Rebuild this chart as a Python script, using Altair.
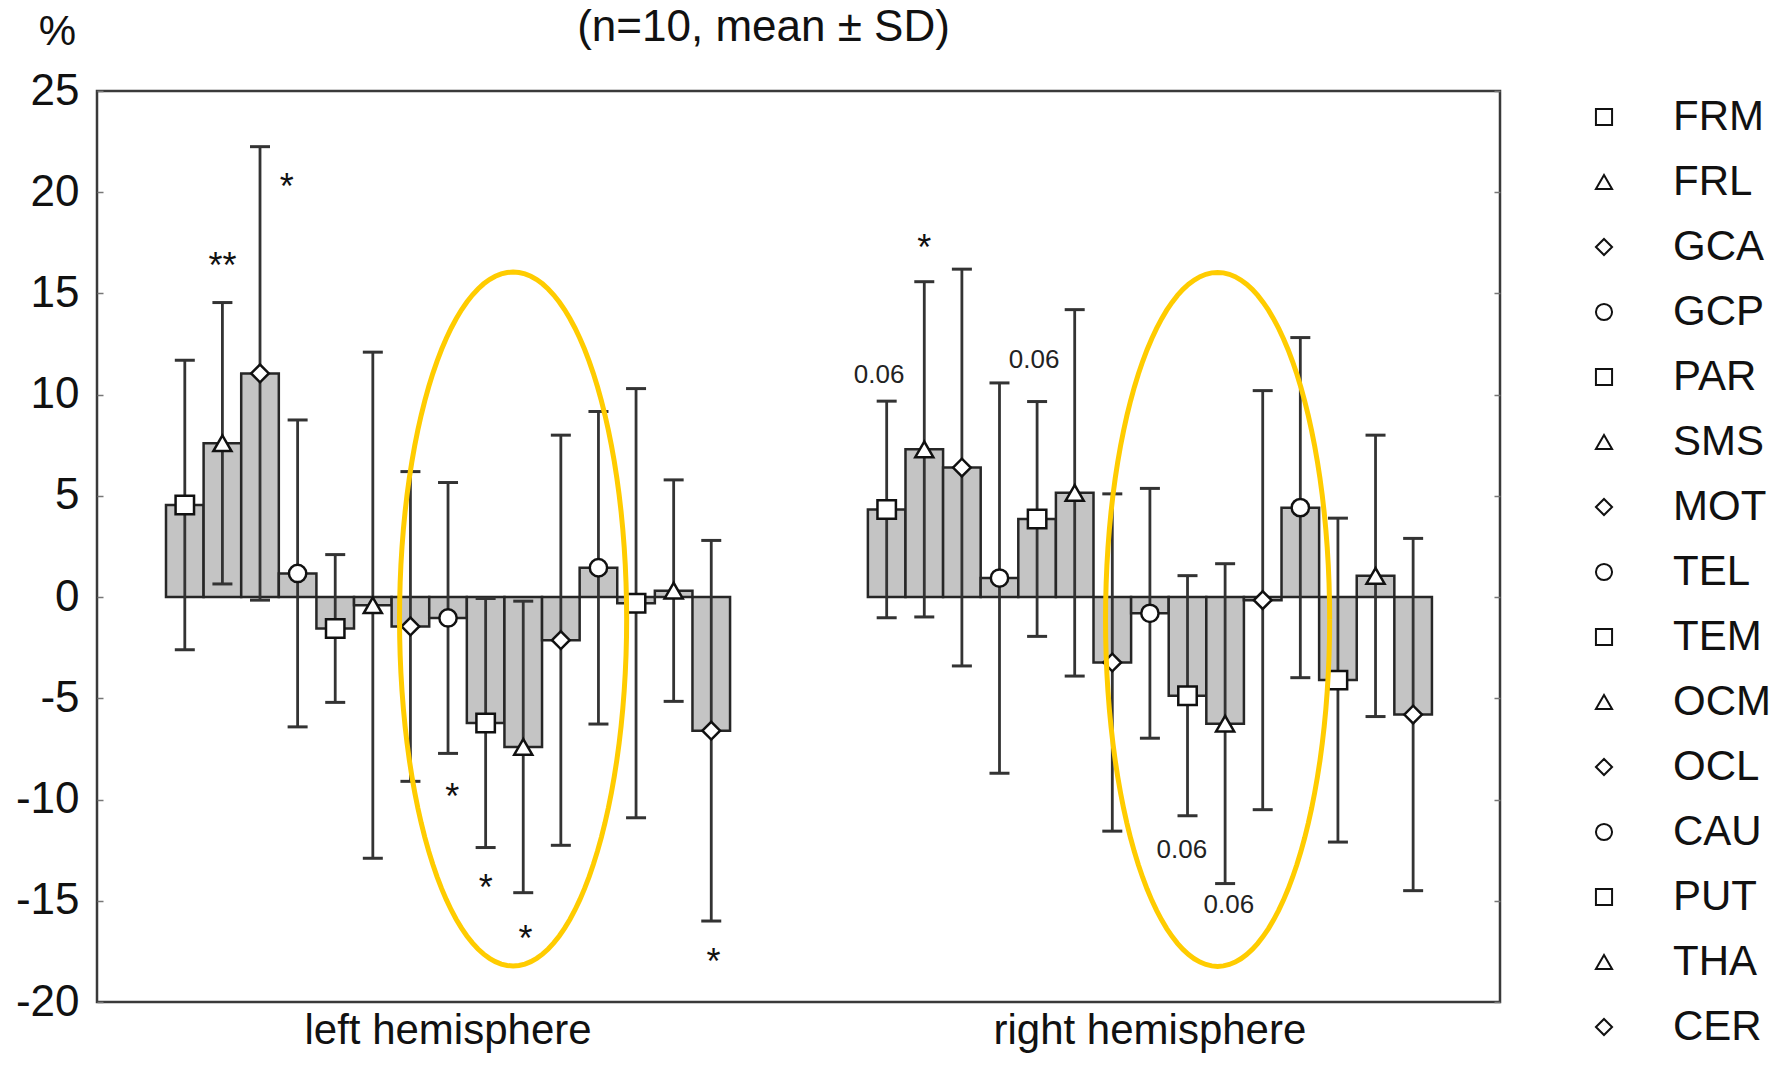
import altair as alt
import pandas as pd

# ---------------- data ----------------
regions = ["FRM", "FRL", "GCA", "GCP", "PAR", "SMS", "MOT", "TEL",
           "TEM", "OCM", "OCL", "CAU", "PUT", "THA", "CER"]
hemispheres = ["left hemisphere", "right hemisphere"]

left_mean = [4.55, 7.6, 11.05, 1.17, -1.55, -0.4, -1.45, -1.03,
             -6.22, -7.4, -2.13, 1.45, -0.3, 0.32, -6.6]
left_sd = [7.15, 6.95, 11.2, 7.58, 3.65, 12.5, 7.65, 6.69,
           6.15, 7.2, 10.13, 7.72, 10.6, 5.47, 9.4]
right_mean = [4.33, 7.3, 6.4, 0.94, 3.86, 5.15, -3.23, -0.8,
              -4.87, -6.25, -0.15, 4.42, -4.1, 1.05, -5.8]
right_sd = [5.35, 8.28, 9.8, 9.64, 5.8, 9.05, 8.33, 6.17,
            5.93, 7.9, 10.35, 8.4, 8.0, 6.95, 8.7]

y_ticks = [-20, -15, -10, -5, 0, 5, 10, 15, 20, 25]

# significance annotations
ann_text = ["**", "*", "*", "*", "*", "*", "0.06", "*", "0.06", "0.06", "0.06"]
ann_hemi = [0, 0, 0, 0, 0, 0, 1, 1, 1, 1, 1]
ann_region = ["FRL", "GCA", "TEL", "TEM", "OCM", "CER", "FRM", "FRL", "PAR", "TEM", "OCM"]
ann_value = [16.9, 20.8, -9.35, -13.85, -16.35, -17.5, 10.95, 17.8, 11.7, -12.5, -15.2]
ann_shift = [0.0, 0.71, 0.11, 0.0, 0.06, 0.06, -0.2, 0.0, -0.08, -0.15, 0.1]

# highlighted ellipses (centre in bar-index units of each group, value units)
ell_hemi = [0, 1]
ell_center_index = [8.73, 8.8]
ell_center_value = [-1.08, -1.1]
ell_half_width = [3.02, 2.98]
ell_half_height = [17.14, 17.14]

title_text = "(n=10, mean \u00b1 SD)"
y_title = "%"

# ---------------- layout / style ----------------
FONT = "Liberation Sans, Arial, sans-serif"
W, H = 1403, 911
X_SPAN = 37.31                 # plot width in bar-slot units
group_start = [1.835, 20.5]    # left edge of first bar of each hemisphere
marker_cycle = ["square", "triangle-up", "diamond", "circle"]
marker_sizes = [340, 300, 200, 330]
shapes = [marker_cycle[i % 4] for i in range(len(regions))]

rows = []
for h, (means, sds) in enumerate([(left_mean, left_sd), (right_mean, right_sd)]):
    for i, r in enumerate(regions):
        rows.append({
            "hemi": hemispheres[h], "region": r, "marker": marker_cycle[i % 4],
            "x0": group_start[h] + i, "x1": group_start[h] + i + 1,
            "pos": group_start[h] + i + 0.5,
            "mean": means[i], "lo": means[i] - sds[i], "hi": means[i] + sds[i],
        })
df = pd.DataFrame(rows)

hemi_df = pd.DataFrame({"label": hemispheres,
                        "pos": [g + len(regions) / 2 for g in group_start]})

ann = pd.DataFrame({
    "text": ann_text,
    "pos": [group_start[h] + regions.index(r) + 0.5 + s
            for h, r, s in zip(ann_hemi, ann_region, ann_shift)],
    "val": ann_value,
    "kind": ["star" if t.startswith("*") else "p" for t in ann_text],
})

angles = list(range(0, 361, 3))
ell = pd.DataFrame({
    "eid": ell_hemi,
    "cx": [group_start[h] + c + 0.5 for h, c in zip(ell_hemi, ell_center_index)],
    "cy": ell_center_value,
    "rx": ell_half_width,
    "ry": ell_half_height,
    "deg": [angles for _ in ell_hemi],
})

xs = alt.Scale(domain=[0, X_SPAN], nice=False, zero=False)
ys = alt.Scale(domain=[-20, 25], nice=False, zero=False)

y_axis = alt.Axis(orient="left", values=y_ticks, ticks=False, domain=False, grid=False,
                  labelExpr="'' + datum.value",
                  labelFontSize=44, labelFont=FONT, labelColor="#111", labelPadding=18,
                  labelFlush=False, labelOverlap=False,
                  title=y_title, titleAngle=0, titleX=-40, titleY=-60, titleAlign="center",
                  titleBaseline="middle", titleFontSize=42, titleFont=FONT,
                  titleFontWeight="normal", titleColor="#111")
tick_in_left = alt.Axis(orient="right", offset=-W, values=y_ticks, labels=False, domain=False,
                        grid=False, tickSize=6, tickColor="#777", tickWidth=1.5, title=None)
tick_in_right = alt.Axis(orient="left", offset=-W, values=y_ticks, labels=False, domain=False,
                         grid=False, tickSize=6, tickColor="#777", tickWidth=1.5, title=None)

base = alt.Chart(df)

bars = base.mark_bar(fill="#c4c4c4", stroke="#262626", strokeWidth=2.5).encode(
    x=alt.X("x0:Q", scale=xs, axis=None),
    x2="x1:Q",
    y=alt.Y("mean:Q", scale=ys, axis=y_axis),
    y2=alt.datum(0),
)

err = base.mark_rule(color="#333333", strokeWidth=2.8).encode(
    x=alt.X("pos:Q", scale=xs, axis=None),
    y=alt.Y("lo:Q", scale=ys, axis=tick_in_left),
    y2="hi:Q",
)

cap_lo = base.mark_tick(orient="horizontal", size=20, thickness=3, color="#333333", opacity=1).encode(
    x=alt.X("pos:Q", scale=xs, axis=None),
    y=alt.Y("lo:Q", scale=ys, axis=tick_in_right),
)
cap_hi = base.mark_tick(orient="horizontal", size=20, thickness=3, color="#333333", opacity=1).encode(
    x=alt.X("pos:Q", scale=xs, axis=None),
    y=alt.Y("hi:Q", scale=ys, axis=None),
)

points = base.mark_point(filled=True, fill="white", stroke="#111111", strokeWidth=2.5, opacity=1).encode(
    x=alt.X("pos:Q", scale=xs, axis=None),
    y=alt.Y("mean:Q", scale=ys, axis=None),
    shape=alt.Shape("marker:N", scale=None),
    size=alt.Size("marker:N", scale=alt.Scale(domain=marker_cycle, range=marker_sizes), legend=None),
)

# legend-only layer (no rows are drawn, only the shape legend)
legend_layer = base.transform_filter("false").mark_point(
    filled=False, color="#555555", strokeWidth=2, opacity=1).encode(
    x=alt.X("pos:Q", scale=xs, axis=None),
    y=alt.Y("mean:Q", scale=ys, axis=None),
    shape=alt.Shape("region:N", sort=regions, scale=alt.Scale(domain=regions, range=shapes),
                    legend=alt.Legend(title=None, orient="none", legendX=1486, legendY=5,
                                      labelFontSize=42, labelFont=FONT, labelColor="#111",
                                      labelLimit=400, labelOffset=48, rowPadding=23,
                                      symbolSize=260, symbolStrokeWidth=2,
                                      symbolStrokeColor="#555555", symbolFillColor="white",
                                      padding=0)),
)

hemi_labels = alt.Chart(hemi_df).mark_text(
    fontSize=42, font=FONT, color="#111", baseline="top", align="center").encode(
    x=alt.X("pos:Q", scale=xs, axis=None),
    y=alt.value(H + 9),
    text="label:N",
)

stars = alt.Chart(ann).transform_filter("datum.kind == 'star'").mark_text(
    fontSize=36, font=FONT, color="#111", baseline="middle", align="center", dy=12).encode(
    x=alt.X("pos:Q", scale=xs, axis=None),
    y=alt.Y("val:Q", scale=ys, axis=None),
    text="text:N",
)
pvals = alt.Chart(ann).transform_filter("datum.kind == 'p'").mark_text(
    fontSize=26, font=FONT, color="#222", baseline="middle", align="center").encode(
    x=alt.X("pos:Q", scale=xs, axis=None),
    y=alt.Y("val:Q", scale=ys, axis=None),
    text="text:N",
)

ellipses = alt.Chart(ell).transform_flatten(["deg"]).transform_calculate(
    ex="datum.cx + datum.rx * cos(datum.deg * PI / 180)",
    ey="datum.cy + datum.ry * sin(datum.deg * PI / 180)",
).mark_line(color="#FFCC00", strokeWidth=5).encode(
    x=alt.X("ex:Q", scale=xs, axis=None),
    y=alt.Y("ey:Q", scale=ys, axis=None),
    detail="eid:N",
    order="deg:Q",
)

chart = alt.layer(bars, err, cap_lo, cap_hi, points, legend_layer, hemi_labels,
                  stars, pvals, ellipses).resolve_axis(
    y="independent"
).properties(
    width=W, height=H,
    padding={"left": 89, "top": 83, "right": 281, "bottom": 55},
    autosize=alt.AutoSizeParams(type="none"),
    title=alt.TitleParams(text=title_text, fontSize=44, font=FONT, fontWeight="normal",
                          color="#111", anchor="middle", frame="group", dx=-35, offset=-40),
).configure(background="white").configure_view(stroke="#3a3a3a", strokeWidth=2.5)

chart.save("out.html", embed_options={"renderer": "svg", "actions": False})
